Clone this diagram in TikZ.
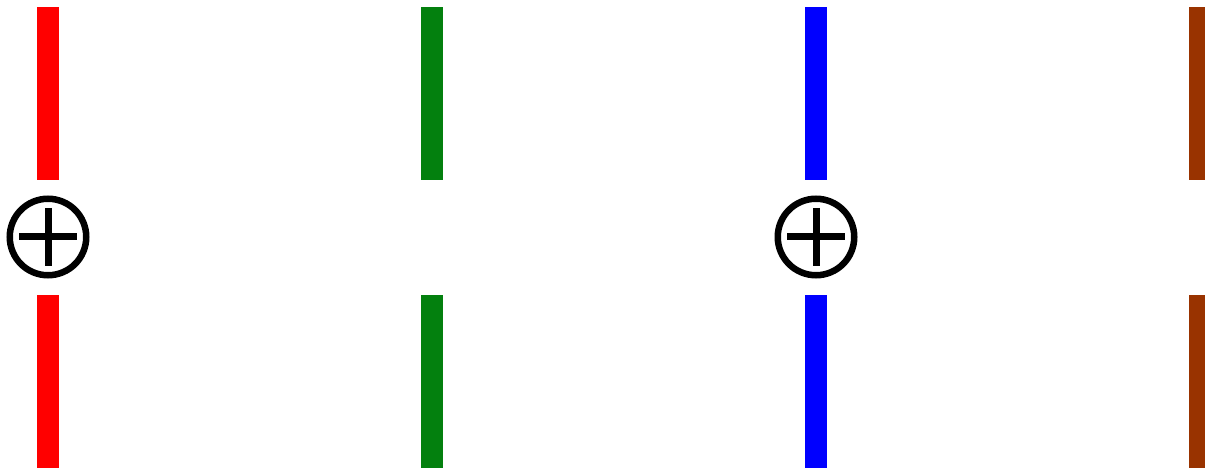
\documentclass[tikz,border=0pt]{standalone}
\usetikzlibrary{calc}
\definecolor{cred}{RGB}{255,0,0}
\definecolor{cgreen}{RGB}{3,128,14}
\definecolor{cblue}{RGB}{0,0,255}
\definecolor{cbrown}{RGB}{153,51,0}
\begin{document}
\begin{tikzpicture}[x=1pt,y=-1pt,
  bar/.style={rectangle,inner sep=0pt,minimum width=22pt,minimum height=173pt,fill=#1,draw=none},
  oplusnode/.style={circle,inner sep=0pt,minimum size=76.5pt,draw=black,line width=6.5pt},
  plusline/.style={line width=7pt,black}]
\useasboundingbox (0,0) rectangle (1205,470);
\clip (0,0) rectangle (1205,470);
\node[bar=cred]   (r1) at (48,93.5) {};
\node[bar=cred]   (r2) at (48,381.5) {};
\node[bar=cgreen] (g1) at (432,93.5) {};
\node[bar=cgreen] (g2) at (432,381.5) {};
\node[bar=cblue]  (b1) at (816,93.5) {};
\node[bar=cblue]  (b2) at (816,381.5) {};
\node[bar=cbrown] (n1) at (1200,93.5) {};
\node[bar=cbrown] (n2) at (1200,381.5) {};
\node[oplusnode] (p1) at (48,237) {};
\node[oplusnode] (p2) at (816,237) {};
\foreach \p in {p1,p2}{
  \draw[plusline] ($(\p.center)+(0,-29)$) -- ($(\p.center)+(0,29)$);
  \draw[plusline] ($(\p.center)+(-29,0)$) -- ($(\p.center)+(29,0)$);
}
\end{tikzpicture}
\end{document}
